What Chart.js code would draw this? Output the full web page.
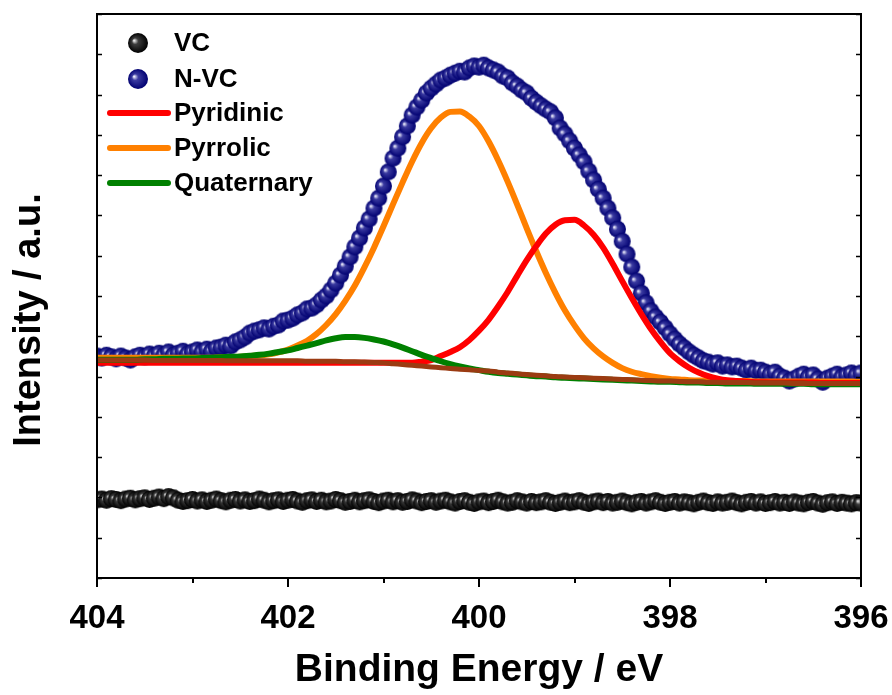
<!DOCTYPE html>
<html><head><meta charset="utf-8">
<script src="https://cdn.jsdelivr.net/npm/chart.js@4.4.1/dist/chart.umd.min.js"></script>
<style>html,body{margin:0;padding:0;background:#fff;}</style>
</head><body>
<canvas id="c" width="892" height="695"></canvas>
<script>
// ---------- DATA ----------
const scanEnergy = [
404.00,403.95,403.90,403.85,403.80,403.75,403.70,403.65,403.60,403.55,
403.50,403.45,403.40,403.35,403.30,403.25,403.20,403.15,403.10,403.05,
403.00,402.95,402.90,402.85,402.80,402.75,402.70,402.65,402.60,402.55,
402.50,402.45,402.40,402.35,402.30,402.25,402.20,402.15,402.10,402.05,
402.00,401.95,401.90,401.85,401.80,401.75,401.70,401.65,401.60,401.55,
401.50,401.45,401.40,401.35,401.30,401.25,401.20,401.15,401.10,401.05,
401.00,400.95,400.90,400.85,400.80,400.75,400.70,400.65,400.60,400.55,
400.50,400.45,400.40,400.35,400.30,400.25,400.20,400.15,400.10,400.05,
400.00,399.95,399.90,399.85,399.80,399.75,399.70,399.65,399.60,399.55,
399.50,399.45,399.40,399.35,399.30,399.25,399.20,399.15,399.10,399.05,
399.00,398.95,398.90,398.85,398.80,398.75,398.70,398.65,398.60,398.55,
398.50,398.45,398.40,398.35,398.30,398.25,398.20,398.15,398.10,398.05,
398.00,397.95,397.90,397.85,397.80,397.75,397.70,397.65,397.60,397.55,
397.50,397.45,397.40,397.35,397.30,397.25,397.20,397.15,397.10,397.05,
397.00,396.95,396.90,396.85,396.80,396.75,396.70,396.65,396.60,396.55,
396.50,396.45,396.40,396.35,396.30,396.25,396.20,396.15,396.10,396.05,
396.00];

const nvcIntensity = [
5.51,5.46,5.53,5.49,5.44,5.51,5.46,5.41,5.49,5.53,
5.49,5.56,5.51,5.58,5.53,5.61,5.53,5.58,5.63,5.56,
5.61,5.66,5.61,5.68,5.63,5.71,5.73,5.78,5.76,5.86,
5.91,5.98,6.08,6.13,6.16,6.21,6.18,6.25,6.28,6.38,
6.40,6.45,6.53,6.58,6.68,6.70,6.78,6.90,7.00,7.15,
7.32,7.52,7.74,7.97,8.22,8.44,8.69,8.91,9.18,9.43,
9.73,10.08,10.42,10.67,10.95,11.22,11.49,11.69,11.86,12.04,
12.16,12.26,12.36,12.41,12.48,12.53,12.58,12.56,12.66,12.71,
12.68,12.73,12.66,12.61,12.56,12.46,12.41,12.29,12.21,12.11,
12.04,11.91,11.81,11.72,11.64,11.57,11.42,11.17,11.02,10.85,
10.67,10.50,10.33,10.10,9.88,9.65,9.43,9.18,8.94,8.66,
8.36,8.04,7.72,7.37,7.07,6.83,6.63,6.48,6.35,6.21,
6.06,5.93,5.81,5.71,5.61,5.53,5.46,5.39,5.36,5.31,
5.34,5.26,5.29,5.24,5.26,5.21,5.16,5.21,5.14,5.16,
5.11,5.06,5.11,5.01,4.96,4.89,4.94,5.01,5.06,4.99,
5.04,4.94,4.86,4.96,5.01,5.06,4.99,5.04,5.09,5.04,
5.09];

const vcIntensity = [
1.94,1.96,1.93,1.97,1.95,1.92,1.96,1.98,1.94,1.97,
1.99,1.95,1.98,2.01,1.97,2.02,1.99,1.93,1.90,1.92,
1.95,1.91,1.94,1.90,1.93,1.96,1.92,1.89,1.93,1.95,
1.91,1.94,1.90,1.92,1.96,1.93,1.89,1.92,1.94,1.90,
1.93,1.95,1.91,1.88,1.92,1.94,1.90,1.93,1.89,1.91,
1.95,1.92,1.88,1.90,1.93,1.89,1.92,1.94,1.90,1.87,
1.91,1.93,1.89,1.92,1.88,1.90,1.94,1.91,1.87,1.90,
1.92,1.88,1.91,1.93,1.89,1.86,1.90,1.92,1.88,1.85,
1.89,1.91,1.87,1.90,1.93,1.89,1.86,1.88,1.92,1.89,
1.86,1.90,1.87,1.89,1.92,1.88,1.85,1.88,1.91,1.87,
1.89,1.92,1.88,1.85,1.89,1.91,1.87,1.90,1.86,1.88,
1.91,1.87,1.84,1.88,1.90,1.86,1.89,1.92,1.88,1.85,
1.88,1.90,1.86,1.89,1.87,1.84,1.88,1.91,1.87,1.85,
1.89,1.86,1.88,1.91,1.87,1.84,1.88,1.90,1.86,1.89,
1.85,1.87,1.90,1.86,1.88,1.85,1.89,1.86,1.84,1.88,
1.90,1.86,1.83,1.87,1.89,1.85,1.88,1.86,1.84,1.87,
1.86];

const fitEnergy = [
404.0,403.9,403.8,403.7,403.6,403.5,403.4,403.3,403.2,403.1,
403.0,402.9,402.8,402.7,402.6,402.5,402.4,402.3,402.2,402.1,
402.0,401.9,401.8,401.7,401.6,401.5,401.4,401.3,401.2,401.1,
401.0,400.9,400.8,400.7,400.6,400.5,400.4,400.3,400.2,400.1,
400.0,399.9,399.8,399.7,399.6,399.5,399.4,399.3,399.2,399.1,
399.0,398.9,398.8,398.7,398.6,398.5,398.4,398.3,398.2,398.1,
398.0,397.9,397.8,397.7,397.6,397.5,397.4,397.3,397.2,397.1,
397.0,396.9,396.8,396.7,396.6,396.5,396.4,396.3,396.2,396.1,
396.0];

const pyridinic = [
5.34,5.34,5.34,5.34,5.34,5.34,5.34,5.34,5.34,5.34,
5.34,5.34,5.34,5.34,5.34,5.34,5.34,5.34,5.34,5.34,
5.34,5.34,5.34,5.34,5.34,5.34,5.34,5.34,5.34,5.34,
5.34,5.34,5.34,5.34,5.37,5.41,5.51,5.61,5.73,5.91,
6.14,6.41,6.74,7.10,7.50,7.89,8.24,8.55,8.77,8.88,
8.89,8.75,8.52,8.20,7.80,7.37,6.95,6.55,6.18,5.86,
5.58,5.38,5.22,5.10,5.01,4.95,4.91,4.89,4.87,4.86,
4.86,4.85,4.85,4.85,4.85,4.85,4.84,4.84,4.84,4.84,
4.84];

const pyrrolic = [
5.47,5.47,5.47,5.47,5.47,5.47,5.47,5.47,5.47,5.47,
5.47,5.47,5.47,5.48,5.48,5.49,5.51,5.52,5.55,5.60,
5.67,5.77,5.89,6.06,6.28,6.55,6.88,7.26,7.71,8.20,
8.73,9.28,9.82,10.34,10.80,11.17,11.43,11.57,11.58,11.45,
11.22,10.84,10.37,9.84,9.27,8.68,8.11,7.57,7.08,6.64,
6.27,5.95,5.70,5.50,5.34,5.21,5.12,5.06,5.01,4.97,
4.94,4.93,4.91,4.90,4.90,4.89,4.89,4.89,4.89,4.88,
4.88,4.88,4.88,4.88,4.88,4.88,4.88,4.88,4.88,4.88,
4.87];

const quaternary = [
5.42,5.42,5.42,5.42,5.42,5.43,5.43,5.44,5.44,5.45,
5.45,5.46,5.47,5.48,5.49,5.50,5.52,5.54,5.57,5.61,
5.65,5.71,5.77,5.83,5.90,5.95,5.98,5.98,5.96,5.92,
5.87,5.80,5.72,5.63,5.54,5.46,5.38,5.31,5.25,5.20,
5.16,5.12,5.09,5.07,5.05,5.03,5.01,5.00,4.98,4.97,
4.96,4.95,4.94,4.93,4.92,4.91,4.90,4.89,4.88,4.87,
4.87,4.86,4.85,4.85,4.84,4.84,4.83,4.83,4.83,4.82,
4.82,4.82,4.82,4.82,4.82,4.81,4.81,4.81,4.81,4.81,
4.81];

const baseline = [
5.41,5.41,5.41,5.41,5.41,5.41,5.40,5.40,5.40,5.40,
5.40,5.40,5.40,5.40,5.39,5.39,5.39,5.39,5.39,5.39,
5.39,5.39,5.38,5.38,5.38,5.38,5.37,5.37,5.36,5.35,
5.34,5.32,5.30,5.28,5.26,5.24,5.22,5.20,5.18,5.17,
5.15,5.14,5.11,5.09,5.07,5.05,5.03,5.02,5.00,4.99,
4.98,4.97,4.96,4.95,4.94,4.93,4.92,4.91,4.90,4.89,
4.89,4.88,4.87,4.87,4.86,4.86,4.85,4.85,4.85,4.84,
4.84,4.84,4.84,4.83,4.83,4.83,4.83,4.83,4.83,4.83,
4.83];

const xTickLabels = [404, 402, 400, 398, 396];
const seriesNames = ['VC', 'N-VC', 'Pyridinic', 'Pyrrolic', 'Quaternary'];
const xTitle = 'Binding Energy / eV';
const yTitle = 'Intensity / a.u.';

// ---------- STYLE ----------
const FONT = "'Liberation Sans', Arial, Helvetica, sans-serif";
const COLORS = { vc:'#000000', nvc:'#000080', pyridinic:'#ff0000', pyrrolic:'#ff8000', quaternary:'#008000', bg:'#9b3b12' };

function ball(r, hi, mid, dark){
  const s = Math.ceil(2*r + 2);
  const c = document.createElement('canvas'); c.width = s; c.height = s;
  const g = c.getContext('2d'); const cx = s/2, cy = s/2;
  const grad = g.createRadialGradient(cx-0.4*r, cy-0.25*r, 0.3, cx, cy, r);
  grad.addColorStop(0, hi); grad.addColorStop(0.3, mid); grad.addColorStop(1, dark);
  g.fillStyle = grad; g.beginPath(); g.arc(cx, cy, r, 0, Math.PI*2); g.fill();
  return c;
}
const nvcBall = ball(8.5, '#f4f4ff', '#3a3aa0', '#000070');
const vcBall = ball(8.5, '#f0f0f0', '#3c3c3c', '#000000');
const nvcBallBig = ball(10, '#f4f4ff', '#3a3aa0', '#000070');
const vcBallBig = ball(10, '#f0f0f0', '#3c3c3c', '#000000');

function pts(xs, ys){ return xs.map((x, i) => ({ x: x, y: ys[i] })); }

const decor = {
  id: 'decor',
  afterDraw(chart){
    const { ctx, chartArea: a, scales: { x, y } } = chart;
    ctx.save();
    ctx.strokeStyle = '#000'; ctx.lineWidth = 2; ctx.lineCap = 'butt';
    ctx.strokeRect(a.left, a.top, a.right - a.left, a.bottom - a.top);
    x.ticks.forEach(t => {
      const px = Math.round(x.getPixelForValue(t.value));
      const len = xTickLabels.includes(t.value) ? 9 : 5;
      ctx.beginPath(); ctx.moveTo(px, a.bottom); ctx.lineTo(px, a.bottom + len); ctx.stroke();
    });
    ctx.lineWidth = 1.5;
    y.ticks.forEach(t => {
      const py = Math.round(y.getPixelForValue(t.value)) + 0.5;
      ctx.beginPath(); ctx.moveTo(a.left, py); ctx.lineTo(a.left + 5, py); ctx.stroke();
      ctx.beginPath(); ctx.moveTo(a.right, py); ctx.lineTo(a.right - 5, py); ctx.stroke();
    });
    ctx.fillStyle = '#000';
    ctx.font = 'bold 39px ' + FONT;
    ctx.textAlign = 'center'; ctx.textBaseline = 'alphabetic';
    ctx.fillText(xTitle, (a.left + a.right) / 2, 681);
    ctx.save();
    ctx.translate(40, 320); ctx.rotate(-Math.PI / 2);
    ctx.font = 'bold 38px ' + FONT;
    ctx.fillText(yTitle, 0, 0);
    ctx.restore();
    const rows = [43, 79, 113, 148, 183];
    const lx = a.left, tx = a.left + 77;
    ctx.font = 'bold 26px ' + FONT; ctx.textAlign = 'left'; ctx.textBaseline = 'middle';
    ctx.drawImage(vcBallBig, lx + 41 - vcBallBig.width/2, rows[0] - vcBallBig.height/2);
    ctx.drawImage(nvcBallBig, lx + 41 - nvcBallBig.width/2, rows[1] - nvcBallBig.height/2);
    const lineCols = [COLORS.pyridinic, COLORS.pyrrolic, COLORS.quaternary];
    ctx.lineCap = 'round'; ctx.lineWidth = 6;
    for (let i = 0; i < 3; i++){
      ctx.strokeStyle = lineCols[i];
      ctx.beginPath(); ctx.moveTo(lx + 13, rows[i+2]); ctx.lineTo(lx + 71, rows[i+2]); ctx.stroke();
    }
    seriesNames.forEach((n, i) => ctx.fillText(n, tx, rows[i] + 1));
    ctx.restore();
  }
};

new Chart(document.getElementById('c'), {
  type: 'scatter',
  data: {
    datasets: [
      { label: 'Background', data: pts(fitEnergy, baseline), showLine: true, borderColor: COLORS.bg, borderWidth: 5, pointRadius: 0, cubicInterpolationMode: 'monotone', order: 0 },
      { label: seriesNames[4], data: pts(fitEnergy, quaternary), showLine: true, borderColor: COLORS.quaternary, borderWidth: 6, pointRadius: 0, cubicInterpolationMode: 'monotone', order: 1 },
      { label: seriesNames[2], data: pts(fitEnergy, pyridinic), showLine: true, borderColor: COLORS.pyridinic, borderWidth: 6, pointRadius: 0, cubicInterpolationMode: 'monotone', order: 2 },
      { label: seriesNames[3], data: pts(fitEnergy, pyrrolic), showLine: true, borderColor: COLORS.pyrrolic, borderWidth: 6, pointRadius: 0, cubicInterpolationMode: 'monotone', order: 3 },
      { label: seriesNames[1], data: pts(scanEnergy, nvcIntensity), showLine: false, pointStyle: nvcBall, pointRadius: 8.5, order: 4 },
      { label: seriesNames[0], data: pts(scanEnergy, vcIntensity), showLine: false, pointStyle: vcBall, pointRadius: 8.5, order: 5 }
    ]
  },
  options: {
    responsive: false, animation: false, devicePixelRatio: 1,
    layout: { padding: { top: 14, right: 31, left: 0, bottom: 0 } },
    plugins: { legend: { display: false }, tooltip: { enabled: false } },
    scales: {
      x: {
        type: 'linear', reverse: true, min: 396, max: 404,
        border: { display: false }, grid: { display: false },
        ticks: { stepSize: 1, autoSkip: false, maxRotation: 0, padding: 13, color: '#000',
                 font: { family: FONT, size: 33, weight: 'bold' },
                 callback: v => xTickLabels.includes(v) ? String(v) : '' },
        afterFit: s => { s.height = 117; s.paddingLeft = 0; s.paddingRight = 0; }
      },
      y: {
        min: 0, max: 14,
        border: { display: false }, grid: { display: false },
        ticks: { stepSize: 1, display: false },
        afterFit: s => { s.width = 97; s.paddingTop = 0; s.paddingBottom = 0; }
      }
    }
  },
  plugins: [decor]
});
</script>
</body></html>
